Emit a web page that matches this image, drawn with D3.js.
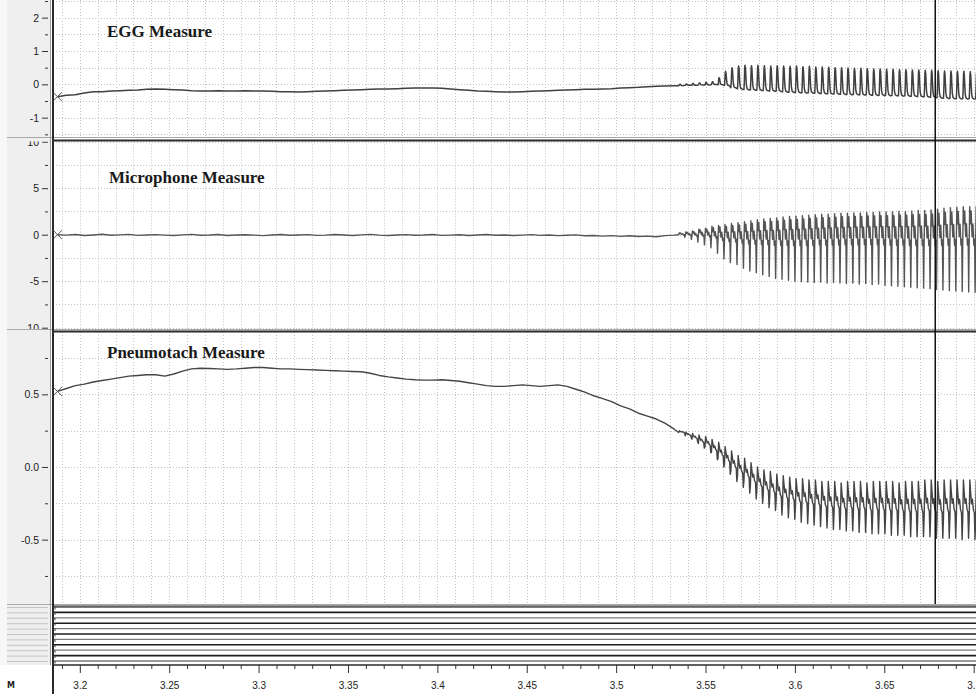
<!DOCTYPE html>
<html>
<head>
<meta charset="utf-8">
<script src="https://cdn.jsdelivr.net/npm/d3@7"></script>
<style>
  body { margin: 0; background: #ffffff; }
  svg { display: block; }
</style>
</head>
<body>
<svg id="chart" width="976" height="694"></svg>
<script>
// ---------------------------------------------------------------------------
// Recording: EGG, microphone and pneumotach channels, time in seconds
// ---------------------------------------------------------------------------

// Slow (pre-voicing) part of each channel, one sample every 5 ms from 3.1875 s
const baseStart = 3.1875;
const baseStep = 0.005;

const eggBase = [
  -0.37, -0.33, -0.31, -0.26, -0.22, -0.22, -0.20, -0.19, -0.18, -0.17,
  -0.15, -0.14, -0.15, -0.16, -0.17, -0.19, -0.20, -0.20, -0.19, -0.20,
  -0.20, -0.19, -0.20, -0.20, -0.21, -0.22, -0.22, -0.23, -0.22, -0.21,
  -0.20, -0.19, -0.18, -0.17, -0.16, -0.15, -0.14, -0.14, -0.13, -0.12,
  -0.11, -0.11, -0.11, -0.12, -0.14, -0.16, -0.18, -0.20, -0.21, -0.22,
  -0.23, -0.23, -0.22, -0.21, -0.20, -0.19, -0.18, -0.17, -0.16, -0.15,
  -0.15, -0.14, -0.13, -0.11, -0.10, -0.09, -0.07, -0.06, -0.05, -0.04
];

const micBase = [
   0.00, -0.05,  0.02, -0.08, -0.03,  0.04, -0.06, -0.02,  0.03, -0.07,
  -0.04,  0.01, -0.05, -0.09, -0.02,  0.03, -0.06, -0.04,  0.02, -0.08,
  -0.03,  0.00, -0.05, -0.10, -0.04,  0.02, -0.06, -0.03,  0.01, -0.07,
  -0.05,  0.02, -0.04, -0.08, -0.02,  0.03, -0.05, -0.09, -0.03,  0.01,
  -0.06, -0.04,  0.02, -0.07, -0.05, -0.01, -0.08, -0.04,  0.02, -0.06,
  -0.03, -0.09, -0.05,  0.01, -0.07, -0.04, -0.10, -0.06, -0.02, -0.12,
  -0.08, -0.15, -0.10, -0.18, -0.12, -0.20, -0.15, -0.22, -0.10, -0.05
];

const pneuBase = [
  0.520, 0.540, 0.560, 0.570, 0.585, 0.595, 0.605, 0.615, 0.625, 0.630,
  0.635, 0.635, 0.625, 0.640, 0.660, 0.675, 0.680, 0.678, 0.675, 0.672,
  0.675, 0.680, 0.685, 0.685, 0.680, 0.675, 0.675, 0.672, 0.670, 0.667,
  0.665, 0.662, 0.660, 0.657, 0.655, 0.645, 0.630, 0.620, 0.612, 0.605,
  0.600, 0.598, 0.598, 0.600, 0.595, 0.590, 0.580, 0.570, 0.560, 0.555,
  0.555, 0.560, 0.565, 0.560, 0.555, 0.560, 0.565, 0.555, 0.535, 0.515,
  0.490, 0.470, 0.450, 0.420, 0.400, 0.370, 0.350, 0.330, 0.300, 0.260
];

// Glottal cycle boundaries during voicing (s)
const cycleTimes = [
  3.5350, 3.5387, 3.5424, 3.5460, 3.5497, 3.5533, 3.5570, 3.5606, 3.5642, 3.5679,
  3.5715, 3.5751, 3.5787, 3.5823, 3.5859, 3.5895, 3.5931, 3.5967, 3.6003, 3.6039,
  3.6075, 3.6111, 3.6147, 3.6183, 3.6219, 3.6255, 3.6291, 3.6327, 3.6363, 3.6399,
  3.6435, 3.6471, 3.6507, 3.6543, 3.6579, 3.6615, 3.6651, 3.6687, 3.6723, 3.6759,
  3.6795, 3.6831, 3.6867, 3.6903, 3.6939, 3.6975, 3.7011, 3.7047
];

// Per-cycle maximum / minimum of each channel
const eggMax = [
  0.00, 0.01, 0.03, 0.04, 0.06, 0.08, 0.20, 0.39, 0.50, 0.55,
  0.57, 0.56, 0.57, 0.56, 0.55, 0.56, 0.55, 0.54, 0.55, 0.53,
  0.54, 0.52, 0.52, 0.51, 0.50, 0.50, 0.49, 0.48, 0.48, 0.47,
  0.46, 0.46, 0.45, 0.45, 0.44, 0.44, 0.43, 0.43, 0.42, 0.42,
  0.41, 0.40, 0.40, 0.39, 0.39, 0.38, 0.38
];
const eggMin = [
  -0.04, -0.03, -0.03, -0.02, -0.02, -0.01, -0.02, -0.05, -0.12, -0.16,
  -0.18, -0.19, -0.20, -0.21, -0.22, -0.23, -0.25, -0.26, -0.27, -0.28,
  -0.28, -0.29, -0.30, -0.31, -0.31, -0.32, -0.33, -0.33, -0.34, -0.34,
  -0.35, -0.35, -0.36, -0.36, -0.37, -0.37, -0.38, -0.39, -0.40, -0.41,
  -0.43, -0.44, -0.45, -0.45, -0.46, -0.46, -0.46
];

const micMax = [
  0.20, 0.30, 0.40, 0.60, 0.70, 0.90, 1.00, 1.10, 1.20, 1.30,
  1.40, 1.50, 1.60, 1.70, 1.75, 1.80, 1.90, 1.95, 2.00, 2.05,
  2.10, 2.15, 2.20, 2.20, 2.25, 2.30, 2.30, 2.35, 2.35, 2.40,
  2.40, 2.45, 2.45, 2.45, 2.50, 2.50, 2.55, 2.60, 2.60, 2.65,
  2.75, 2.85, 2.90, 2.95, 3.00, 3.00, 3.00
];
const micMin = [
  -0.30, -0.50, -0.80, -1.10, -1.40, -2.00, -2.60, -3.00, -3.20, -3.60,
  -3.90, -4.10, -4.30, -4.50, -4.70, -4.80, -4.90, -5.00, -5.05, -5.10,
  -5.15, -5.10, -5.20, -5.15, -5.20, -5.25, -5.20, -5.30, -5.25, -5.35,
  -5.30, -5.45, -5.50, -5.55, -5.60, -5.65, -5.70, -5.75, -5.80, -5.90,
  -5.95, -6.00, -6.05, -6.10, -6.15, -6.20, -6.20
];

const pneuMax = [
   0.25,  0.24,  0.23,  0.22,  0.21,  0.19,  0.17,  0.14,  0.11,  0.08,
   0.06,  0.03,  0.00, -0.02, -0.03, -0.05, -0.06, -0.07, -0.08, -0.08,
  -0.09, -0.09, -0.10, -0.10, -0.10, -0.11, -0.10, -0.10, -0.10, -0.11,
  -0.10, -0.10, -0.10, -0.10, -0.11, -0.10, -0.10, -0.10, -0.09, -0.09,
  -0.10, -0.09, -0.09, -0.09, -0.09, -0.09, -0.09
];
const pneuMin = [
   0.23,  0.20,  0.17,  0.13,  0.10,  0.05,  0.00, -0.05, -0.10, -0.14,
  -0.18, -0.22, -0.25, -0.28, -0.30, -0.33, -0.35, -0.36, -0.38, -0.39,
  -0.40, -0.41, -0.42, -0.43, -0.43, -0.44, -0.44, -0.45, -0.45, -0.46,
  -0.46, -0.46, -0.47, -0.47, -0.47, -0.48, -0.48, -0.48, -0.48, -0.49,
  -0.49, -0.49, -0.49, -0.50, -0.49, -0.50, -0.50
];

// Waveform shape within one cycle: [phase 0..1, level 0 (min) .. 1 (max)]
const eggShape  = [[0, 0.03], [0.06, 0.35], [0.12, 0.90], [0.17, 1.00], [0.24, 0.88],
                   [0.30, 0.55], [0.38, 0.20], [0.50, 0.06], [0.75, 0.02], [1, 0.00]];
const micShape  = [[0, 0.60], [0.08, 1.00], [0.18, 0.80], [0.30, 0.95], [0.45, 0.65],
                   [0.58, 0.80], [0.72, 0.55], [0.84, 0.62], [0.92, 0.00], [1, 0.60]];
const pneuShape = [[0, 0.35], [0.10, 1.00], [0.22, 0.80], [0.35, 0.60], [0.50, 0.68],
                   [0.65, 0.50], [0.80, 0.45], [0.90, 0.00], [1, 0.35]];

// Axis ticks
const xTicks = [3.2, 3.25, 3.3, 3.35, 3.4, 3.45, 3.5, 3.55, 3.6, 3.65, 3.7];
const eggTicks = [-1, 0, 1, 2];
const micTicks = [-10, -5, 0, 5, 10];
const pneuTicks = [-0.5, 0, 0.5];

// Cursor position (s)
const cursorTime = 3.6785;

// Number of digital channels in the strip under the analog traces
const digitalChannels = d3.range(11);

// ---------------------------------------------------------------------------
const W = 976, H = 694;
const PLOT_L = 53;
const AXIS_Y = 665;

const svg = d3.select("#chart");
const x = d3.scaleLinear().domain([3.185, 3.7013]).range([PLOT_L, W]);

// Backgrounds
svg.append("rect").attr("width", W).attr("height", H).attr("fill", "#ffffff");
svg.append("rect").attr("x", 0).attr("y", 0).attr("width", 50).attr("height", AXIS_Y)
   .attr("fill", "#f7f7f7");
svg.append("rect").attr("x", 7).attr("y", 0).attr("width", 43).attr("height", AXIS_Y)
   .attr("fill", "#efefef");

const sampleTimes = d3.range(eggBase.length).map(i => baseStart + i * baseStep);

function buildTrace(base, maxs, mins, shape) {
  const pts = base.map((v, i) => [sampleTimes[i], v]);
  const n = Math.min(maxs.length, mins.length, cycleTimes.length - 1);
  for (let i = 0; i < n; i++) {
    const t0 = cycleTimes[i], t1 = cycleTimes[i + 1];
    const hi = maxs[i], lo = mins[i];
    const last = (i === n - 1) ? shape.length : shape.length - 1;
    for (let j = 0; j < last; j++) {
      const [p, s] = shape[j];
      pts.push([t0 + p * (t1 - t0), lo + s * (hi - lo)]);
    }
  }
  return pts;
}

const panels = [
  { id: "egg", title: "EGG Measure", tx: 107, ty: 37, top: 0, bottom: 137,
    domain: [-1.58, 2.53], ticks: eggTicks, minorStep: 0.5, fmt: d => String(d),
    base: eggBase, maxs: eggMax, mins: eggMin, shape: eggShape, width: 1.5, color: "#404040" },
  { id: "mic", title: "Microphone Measure", tx: 109, ty: 183, top: 141.5, bottom: 329,
    domain: [-10.14, 10.02], ticks: micTicks, minorStep: 2.5, fmt: d => String(d),
    base: micBase, maxs: micMax, mins: micMin, shape: micShape, width: 1.4, color: "#555555" },
  { id: "pneu", title: "Pneumotach Measure", tx: 107, ty: 358, top: 332, bottom: 604,
    domain: [-0.943, 0.929], ticks: pneuTicks, minorStep: 0.25, fmt: d => d.toFixed(1),
    base: pneuBase, maxs: pneuMax, mins: pneuMin, shape: pneuShape, width: 1.4, color: "#454545" }
];

const defs = svg.append("defs");
const gridX = d3.range(319, 371).map(k => k / 100);

panels.forEach(p => {
  const y = d3.scaleLinear().domain(p.domain).range([p.bottom, p.top]);
  p.y = y;

  defs.append("clipPath").attr("id", "plot-" + p.id)
    .append("rect").attr("x", PLOT_L).attr("y", p.top)
    .attr("width", W - PLOT_L).attr("height", p.bottom - p.top);
  defs.append("clipPath").attr("id", "lab-" + p.id)
    .append("rect").attr("x", 0).attr("y", p.top)
    .attr("width", PLOT_L).attr("height", p.bottom - p.top);

  const g = svg.append("g").attr("clip-path", `url(#plot-${p.id})`);

  // dotted grid
  const k0 = Math.ceil(p.domain[0] / p.minorStep), k1 = Math.floor(p.domain[1] / p.minorStep);
  const gridY = d3.range(k0, k1 + 1).map(k => k * p.minorStep);
  g.selectAll(".gy").data(gridY).join("line")
    .attr("x1", PLOT_L).attr("x2", W)
    .attr("y1", d => Math.round(y(d)) + 0.5).attr("y2", d => Math.round(y(d)) + 0.5)
    .attr("stroke", "#c2c2c2").attr("stroke-width", 1).attr("stroke-dasharray", "1,2");
  g.selectAll(".gx").data(gridX).join("line")
    .attr("x1", d => Math.round(x(d)) + 0.5).attr("x2", d => Math.round(x(d)) + 0.5)
    .attr("y1", p.top).attr("y2", p.bottom)
    .attr("stroke", "#c2c2c2").attr("stroke-width", 1).attr("stroke-dasharray", "1,2");

  // trace
  const pts = buildTrace(p.base, p.maxs, p.mins, p.shape);
  const line = d3.line().x(d => x(d[0])).y(d => y(d[1]));
  g.append("path").attr("d", line(pts))
    .attr("fill", "none").attr("stroke", p.color)
    .attr("stroke-width", p.width).attr("stroke-linejoin", "round");

  // start marker
  const sx = x(pts[0][0]), sy = y(pts[0][1]);
  svg.append("path")
    .attr("d", `M${sx - 4.5},${sy - 4.5}L${sx + 4.5},${sy + 4.5}M${sx - 4.5},${sy + 4.5}L${sx + 4.5},${sy - 4.5}`)
    .attr("stroke", "#555").attr("stroke-width", 1).attr("fill", "none");

  // title
  svg.append("text").attr("x", p.tx).attr("y", p.ty)
    .attr("font-family", "'Liberation Serif', 'Times New Roman', serif")
    .attr("font-weight", "bold").attr("font-size", 17).attr("fill", "#1a1a1a")
    .text(p.title);

  // y axis (major with labels, minor without), clipped to the panel
  const clip = svg.append("g").attr("clip-path", `url(#lab-${p.id})`);
  const ga = clip.append("g").attr("transform", "translate(48,0)");
  const minorVals = gridY.filter(v => !p.ticks.some(t => Math.abs(t - v) < 1e-9));
  ga.append("g").call(d3.axisLeft(y).tickValues(minorVals).tickSize(3).tickFormat(""))
    .call(s => s.select(".domain").remove());
  ga.append("g").call(d3.axisLeft(y).tickValues(p.ticks).tickSize(6).tickPadding(3).tickFormat(p.fmt))
    .call(s => s.select(".domain").remove());
  ga.selectAll("line").attr("stroke", "#333");
  ga.selectAll("text").attr("font-family", "'Liberation Sans', Arial, sans-serif")
    .attr("font-size", 10.5).attr("fill", "#222");
});

// Panel separators
[[137.5, 140.5], [329.5, 331.5], [604.5, 606.5]].forEach(([a, b]) => {
  svg.append("line").attr("x1", 7).attr("x2", W).attr("y1", a).attr("y2", a)
    .attr("stroke", "#a8a8a8").attr("stroke-width", 1);
  svg.append("line").attr("x1", PLOT_L).attr("x2", W).attr("y1", b).attr("y2", b)
    .attr("stroke", "#2a2a2a").attr("stroke-width", 2);
});

// Digital channel strip
const yDig = d3.scalePoint().domain(digitalChannels).range([607, 661]);
svg.selectAll(".dig").data(digitalChannels).join("line")
  .attr("x1", PLOT_L).attr("x2", W)
  .attr("y1", d => yDig(d)).attr("y2", d => yDig(d))
  .attr("stroke", d => d % 2 ? "#1e1e1e" : "#7a7a7a")
  .attr("stroke-width", d => d % 2 ? 1.6 : 1.3);
svg.selectAll(".digl").data(digitalChannels).join("line")
  .attr("x1", 7).attr("x2", 48)
  .attr("y1", d => yDig(d) + 0.5).attr("y2", d => yDig(d) + 0.5)
  .attr("stroke", "#c4c4c4").attr("stroke-width", 1);
svg.selectAll(".digt").data(digitalChannels).join("line")
  .attr("x1", 55).attr("x2", 55)
  .attr("y1", d => yDig(d)).attr("y2", d => yDig(d) + 2.5)
  .attr("stroke", "#444").attr("stroke-width", 1);

// Left border of the plot area
svg.append("line").attr("x1", 50.5).attr("x2", 50.5).attr("y1", 0).attr("y2", AXIS_Y)
  .attr("stroke", "#9a9a9a").attr("stroke-width", 1);
svg.append("line").attr("x1", 53).attr("x2", 53).attr("y1", 0).attr("y2", H)
  .attr("stroke", "#2a2a2a").attr("stroke-width", 2);

// Cursor
svg.append("line").attr("x1", x(cursorTime)).attr("x2", x(cursorTime))
  .attr("y1", 0).attr("y2", 604)
  .attr("stroke", "#111").attr("stroke-width", 1.5);

// Time axis
const xMinor = d3.range(319, 371).map(k => k / 100)
  .filter(v => !xTicks.some(t => Math.abs(t - v) < 1e-9));
const gx = svg.append("g").attr("transform", `translate(0,${AXIS_Y})`);
gx.append("g").call(d3.axisBottom(x).tickValues(xMinor).tickSize(4).tickFormat(""))
  .call(s => s.select(".domain").remove());
gx.append("g").call(d3.axisBottom(x).tickValues(xTicks).tickSize(8).tickPadding(9)
    .tickFormat(d => String(d)))
  .call(s => s.select(".domain").remove());
gx.selectAll("line").attr("stroke", "#333");
gx.selectAll("text").attr("font-family", "'Liberation Sans', Arial, sans-serif")
  .attr("font-size", 10).attr("fill", "#222");
svg.append("line").attr("x1", PLOT_L).attr("x2", W).attr("y1", AXIS_Y).attr("y2", AXIS_Y)
  .attr("stroke", "#2a2a2a").attr("stroke-width", 1.5);

svg.append("text").attr("x", 7).attr("y", 688)
  .attr("font-family", "'DejaVu Sans', Verdana, sans-serif").attr("font-weight", "bold")
  .attr("font-size", 8).attr("fill", "#222").text("M");
</script>
</body>
</html>
